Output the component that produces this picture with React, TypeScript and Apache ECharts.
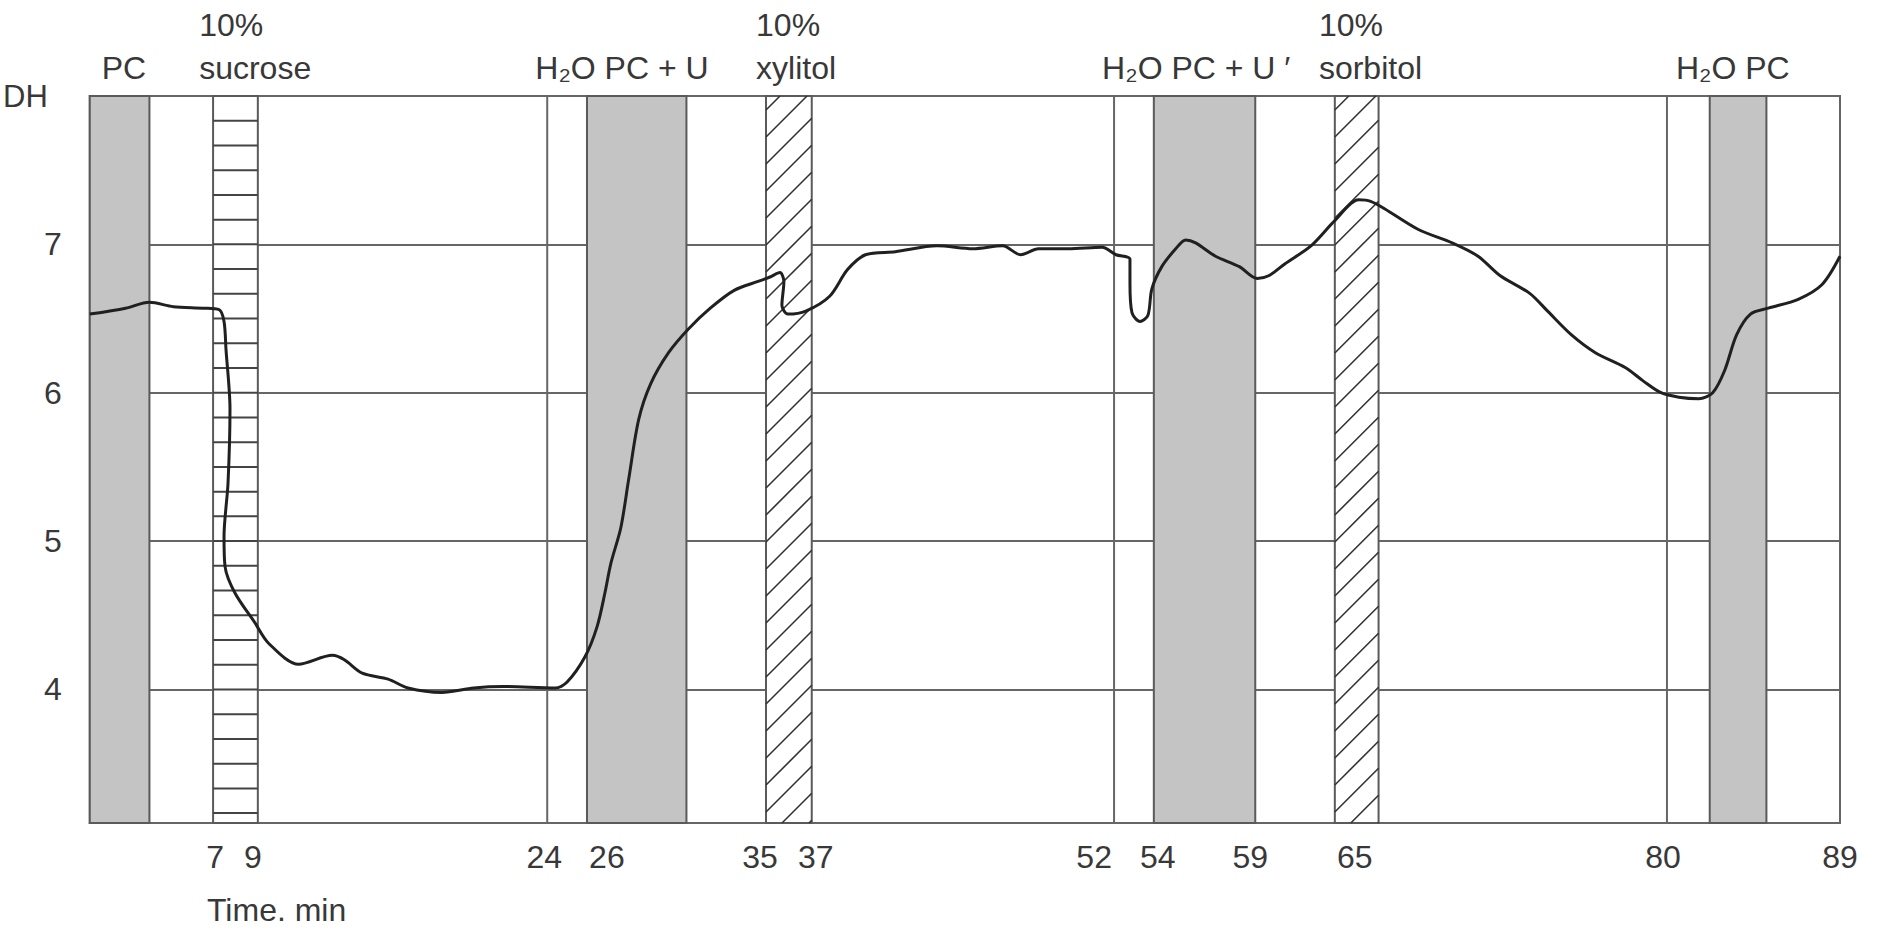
import React, { useEffect, useRef } from 'react';
import * as echarts from 'echarts';

// ---- axis ticks ----
// printed time labels and the time at which each one is printed under the axis
const timeTickText = ['7', '9', '24', '26', '35', '37', '52', '54', '59', '65', '80', '89'];
const timeTickAt = [7.3, 9.2, 23.85, 27.0, 34.7, 37.5, 51.5, 54.7, 59.35, 64.6, 80.1, 89];
const dhTicks = [4, 5, 6, 7];
const TIME_MIN = 1;
const TIME_MAX = 89;
const DH_MIN = 3.1;
const DH_MAX = 8;

// ---- solution periods (bands) ----
// kind: 0 = PC / H2O PC (grey), 1 = sucrose (horizontal hatch), 2 = polyol (diagonal hatch)
const bandStart = [1, 7.2, 26, 35, 54.5, 63.6, 82.45];
const bandEnd = [4, 9.45, 31, 37.3, 59.6, 65.8, 85.3];
const bandKind = [0, 1, 0, 2, 0, 2, 0];

// ---- solution change markers ----
const markerTimes = [24, 52.5, 80.3];

// ---- solution labels ----
const labelTexts = ['PC', '10%\nsucrose', 'H₂O PC + U', '10%\nxylitol', 'H₂O PC + U ′', '10%\nsorbitol', 'H₂O PC'];
const labelTimes = [1.6, 6.5, 23.4, 34.5, 51.9, 62.8, 80.75];

// ---- recorded trace ----
const curveTime = [
  1.0, 2.8, 4.0, 5.2, 6.7, 7.5, 7.75, 7.85, 8.05, 7.95, 7.75, 7.8, 8.3, 9.3, 10.0, 11.5, 13.2, 13.8, 14.7, 16.0,
  17.0, 18.7, 20.3, 21.8, 24.4, 25.0, 25.9, 26.5, 26.9, 27.2, 27.7, 28.1, 28.6, 29.2, 30.1, 31.1, 32.2, 33.4, 34.6, 35.2,
  35.7, 35.9, 35.8, 36.1, 37.0, 38.2, 39.1, 40.0, 41.5, 43.6, 45.4, 46.9, 47.8, 48.7, 50.2, 51.9, 52.6, 53.3, 53.3, 53.4,
  53.8, 54.2, 54.4, 54.9, 55.6, 56.1, 56.6, 57.6, 58.8, 59.7, 60.3, 61.1, 62.4, 63.6, 64.8, 65.4, 66.1, 67.8, 69.5, 70.8,
  71.9, 73.4, 74.3, 75.5, 76.7, 78.2, 79.1, 80.0, 80.9, 81.9, 82.6, 83.2, 83.8, 84.5, 85.4, 86.9, 88.1, 89.0,
];
const curveDH = [
  6.53, 6.57, 6.61, 6.58, 6.57, 6.56, 6.48, 6.29, 5.89, 5.39, 5.03, 4.83, 4.65, 4.45, 4.31, 4.17, 4.23, 4.2, 4.11, 4.07,
  4.01, 3.98, 4.01, 4.02, 4.01, 4.05, 4.22, 4.42, 4.65, 4.85, 5.09, 5.42, 5.82, 6.06, 6.27, 6.43, 6.57, 6.69, 6.75, 6.78,
  6.81, 6.75, 6.59, 6.53, 6.55, 6.65, 6.83, 6.93, 6.95, 6.99, 6.97, 6.99, 6.93, 6.97, 6.97, 6.98, 6.93, 6.9, 6.74, 6.54,
  6.48, 6.52, 6.7, 6.85, 6.97, 7.03, 7.01, 6.92, 6.85, 6.77, 6.79, 6.87, 6.99, 7.16, 7.3, 7.29, 7.24, 7.1, 7.01, 6.92,
  6.79, 6.67, 6.55, 6.39, 6.27, 6.17, 6.08, 6.0, 5.97, 5.96, 6.0, 6.15, 6.39, 6.53, 6.57, 6.63, 6.73, 6.92,
];

const FONT = '"Liberation Sans", Arial, Helvetica, sans-serif';
const TEXT = '#383838';
const RULE = '#666';

export default function App() {
  const ref = useRef<HTMLDivElement>(null);

  useEffect(() => {
    if (!ref.current) return;
    const chart = echarts.init(ref.current, undefined, { renderer: 'svg' });

    const bandData = bandStart.map((s, i) => [s, bandEnd[i], bandKind[i]]);
    const lineData = curveTime.map((t, i) => [t, curveDH[i]]);

    const option: any = {
      animation: false,
      backgroundColor: '#fff',
      grid: {
        left: 84,
        right: 39,
        top: 96,
        bottom: 105,
        show: true,
        borderColor: RULE,
        borderWidth: 2,
        backgroundColor: 'transparent',
      },
      xAxis: {
        type: 'value',
        min: TIME_MIN,
        max: TIME_MAX,
        splitLine: { show: false },
        axisTick: { show: false },
        axisLine: { show: true, lineStyle: { color: RULE, width: 2 } },
        axisLabel: {
          customValues: timeTickAt,
          fontSize: 32,
          fontFamily: FONT,
          color: TEXT,
          margin: 18,
          formatter: (v: number) => {
            let best = 0;
            for (let i = 1; i < timeTickAt.length; i++) {
              if (Math.abs(timeTickAt[i] - v) < Math.abs(timeTickAt[best] - v)) best = i;
            }
            return timeTickText[best];
          },
        },
      },
      yAxis: {
        type: 'value',
        min: DH_MIN,
        max: DH_MAX,
        splitNumber: 5,
        name: 'DH',
        nameLocation: 'end',
        nameGap: 0,
        nameTextStyle: {
          fontSize: 31,
          fontFamily: FONT,
          color: TEXT,
          align: 'right',
          verticalAlign: 'middle',
          padding: [0, 42, 0, 0],
        },
        axisLine: { show: true, lineStyle: { color: RULE, width: 2 } },
        axisTick: { show: false },
        splitLine: { show: true, lineStyle: { color: RULE, width: 2 } },
        axisLabel: {
          fontSize: 32,
          fontFamily: FONT,
          color: TEXT,
          margin: 28,
          formatter: (v: number) => (dhTicks.indexOf(v) >= 0 ? String(v) : ''),
        },
      },
      graphic: [
        {
          type: 'text',
          left: 207,
          top: 894,
          style: { text: 'Time. min', fontSize: 32, lineHeight: 32, fontFamily: FONT, fill: TEXT },
        },
      ],
      series: [
        {
          type: 'custom',
          name: 'markers',
          z: 2,
          data: markerTimes.map((t) => [t]),
          renderItem: (params: any, api: any) => {
            const top = api.coord([api.value(0), DH_MAX]);
            const bot = api.coord([api.value(0), DH_MIN]);
            return {
              type: 'line',
              shape: { x1: top[0], y1: top[1], x2: bot[0], y2: bot[1] },
              style: { stroke: RULE, lineWidth: 2 },
            };
          },
        },
        {
          type: 'custom',
          name: 'solutions',
          z: 3,
          data: bandData,
          renderItem: (params: any, api: any) => {
            const x0 = api.value(0);
            const x1 = api.value(1);
            const kind = api.value(2);
            const tl = api.coord([x0, DH_MAX]);
            const br = api.coord([x1, DH_MIN]);
            const left = tl[0];
            const top = tl[1];
            const w = br[0] - tl[0];
            const h = br[1] - tl[1];
            const children: any[] = [
              {
                type: 'rect',
                shape: { x: left, y: top, width: w, height: h },
                style: { fill: kind === 0 ? '#c4c4c4' : '#ffffff', stroke: '#5a5a5a', lineWidth: 2 },
              },
            ];
            if (kind === 1) {
              const step = api.size([0, 1 / 6])[1];
              for (let y = top + step; y < top + h - 2; y += step) {
                children.push({
                  type: 'line',
                  shape: { x1: left, y1: y, x2: left + w, y2: y },
                  style: { stroke: '#444', lineWidth: 2 },
                });
              }
            }
            if (kind === 2) {
              const step = 27;
              for (let yL = top + 14; yL < top + h + w; yL += step) {
                let sx = left;
                let sy = yL;
                let ex = left + w;
                let ey = yL - w;
                if (sy > top + h) {
                  sx = left + (sy - (top + h));
                  sy = top + h;
                }
                if (ey < top) {
                  ex = left + (yL - top);
                  ey = top;
                }
                if (ex <= sx) continue;
                children.push({
                  type: 'line',
                  shape: { x1: sx, y1: sy, x2: ex, y2: ey },
                  style: { stroke: '#333', lineWidth: 1.6 },
                });
              }
            }
            return { type: 'group', children };
          },
        },
        {
          type: 'custom',
          name: 'labels',
          z: 4,
          data: labelTimes.map((t) => [t]),
          renderItem: (params: any, api: any) => {
            const p = api.coord([api.value(0), DH_MAX]);
            return {
              type: 'text',
              x: p[0],
              y: p[1] - 7,
              style: {
                text: labelTexts[params.dataIndex],
                fontSize: 32,
                fontFamily: FONT,
                fill: TEXT,
                align: 'left',
                verticalAlign: 'bottom',
                lineHeight: 43,
              },
            };
          },
        },
        {
          type: 'line',
          name: 'DH',
          z: 5,
          data: lineData,
          showSymbol: false,
          symbol: 'none',
          smooth: 0.3,
          lineStyle: { color: '#202020', width: 3 },
        },
      ],
    };

    chart.setOption(option);
    return () => chart.dispose();
  }, []);

  return (
    <div
      ref={ref}
      style={{ position: 'fixed', left: 0, top: 0, width: 1879, height: 928, background: '#fff' }}
    />
  );
}
